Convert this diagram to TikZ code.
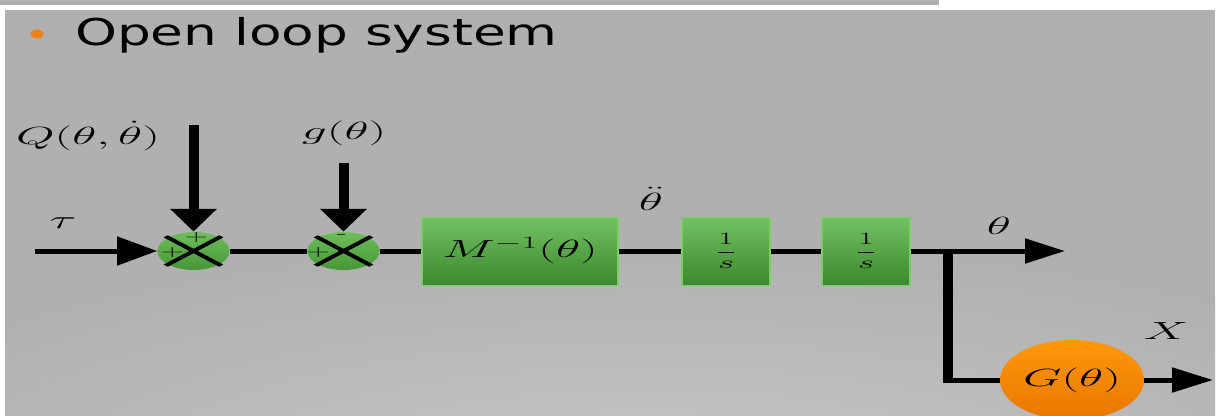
\documentclass[tikz,border=0pt]{standalone}
\usepackage{fontspec}
\usetikzlibrary{arrows.meta,shapes.geometric}
\newfontfamily\titlefont{DejaVu Sans}
\definecolor{bg}{RGB}{176,176,176}
\definecolor{lightbg}{RGB}{200,200,200}
\definecolor{gtop}{RGB}{114,194,98}
\definecolor{gbot}{RGB}{60,136,46}
\definecolor{gedge}{RGB}{124,204,104}
\definecolor{stop}{RGB}{110,190,92}
\definecolor{sbot}{RGB}{70,150,56}
\definecolor{otop}{RGB}{255,152,10}
\definecolor{obot}{RGB}{232,118,0}
\definecolor{bulletc}{RGB}{240,130,30}
\begin{document}
\begin{tikzpicture}[x=1pt,y=-1pt,
  lbl/.style={inner sep=0pt, font=\fontsize{23}{27}\selectfont},
  blk/.style={rectangle, draw=gedge, line width=0.8pt, top color=gtop, bottom color=gbot,
              inner sep=0pt, minimum height=68pt, font=\fontsize{24}{28}\selectfont},
  sumnode/.style={ellipse, draw=none, top color=stop, bottom color=sbot,
              minimum width=36pt, minimum height=38pt, inner sep=0pt},
  gnode/.style={ellipse, draw=none, top color=otop, bottom color=obot,
              minimum width=72pt, minimum height=80pt, inner sep=0pt, font=\fontsize{23}{27}\selectfont},
  sign/.style={inner sep=0pt, font=\fontsize{16}{16}\selectfont},
  wire/.style={line width=5pt},
  xline/.style={line width=3pt, shorten <=-1.5pt, shorten >=-1.5pt},
]
\useasboundingbox (0,0) rectangle (1231,415);
\fill[white] (0,0) rectangle (1231,415);
\fill[bg] (0,0) rectangle (939,5);
\fill[bg] (5,10) rectangle (1215,415);
\begin{scope}
  \clip (5,10) rectangle (1215,415);
  \shade[inner color=lightbg, outer color=bg] (650,500) ellipse [x radius=900, y radius=260];
\end{scope}
% title
\fill[bulletc] (37,34) ellipse [x radius=6.5, y radius=4.5];
\node[anchor=base west, inner sep=0pt] (title) at (75,45)
  {\scalebox{1.44}[1]{\titlefont\fontsize{37}{40}\selectfont Open loop system}};
% diagram (stretched horizontally)
\begin{scope}[transform canvas={xscale=2}]
  \node[sumnode] (s1) at (96.75,251) {};
  \node[sumnode] (s2) at (171.75,251) {};
  \node[blk, minimum width=98pt] (M) at (260,251) {$M^{-1}(\theta)$};
  \node[blk, minimum width=44pt, font=\fontsize{19}{23}\selectfont] (I1) at (363,251) {$\displaystyle\frac{1}{s}$};
  \node[blk, minimum width=44pt, font=\fontsize{19}{23}\selectfont] (I2) at (433,251) {$\displaystyle\frac{1}{s}$};
  \node[gnode] (G) at (536,380) {$G(\theta)$};

  \draw[xline] (s1.north west) -- (s1.south east);
  \draw[xline] (s1.south west) -- (s1.north east);
  \draw[xline] (s2.north west) -- (s2.south east);
  \draw[xline] (s2.south west) -- (s2.north east);
  \node[sign] (s1t) at ([shift={(1.5,-13)}]s1) {+};
  \node[sign] (s1l) at ([shift={(-10.5,2)}]s1) {+};
  \node[sign] (s2t) at ([shift={(-0.75,-14)}]s2) {-};
  \node[sign] (s2l) at ([shift={(-12.5,2)}]s2) {+};

  \coordinate (tin) at (17.5,251);
  \coordinate (qin) at (96.75,125);
  \coordinate (gin) at (171.75,163);
  \coordinate (tout) at (532.5,251);
  \coordinate (br) at (474,251);
  \coordinate (xout) at (606.5,380);

  \draw[wire, -{Triangle[length=20pt,width=28pt]}] (tin) -- (s1.west);
  \draw[wire, -{Triangle[length=23pt,width=22pt]}] (qin) -- (s1.north);
  \draw[wire, -{Triangle[length=23pt,width=22pt]}] (gin) -- (s2.north);
  \draw[wire] (s1.east) -- (s2.west);
  \draw[wire] (s2.east) -- (M.west);
  \draw[wire] (M.east) -- (I1.west);
  \draw[wire] (I1.east) -- (I2.west);
  \draw[wire, -{Triangle[length=20pt,width=24pt]}] (I2.east) -- (tout);
  \draw[wire] (br) |- (G.west);
  \draw[wire, -{Triangle[length=20.5pt,width=24pt]}] (G.east) -- (xout);

  \node[lbl] (tau) at (31.5,223) {$\tau$};
  \node[lbl] (Ql) at (44,136) {$Q(\theta,\dot{\theta})$};
  \node[lbl] (gl) at (172,133) {$g(\theta)$};
  \node[lbl] (thdd) at (325.5,199) {$\ddot{\theta}$};
  \node[lbl] (thl) at (499.5,226) {$\theta$};
  \node[lbl] (Xl) at (583,331) {$X$};
\end{scope}
\end{tikzpicture}
\end{document}
